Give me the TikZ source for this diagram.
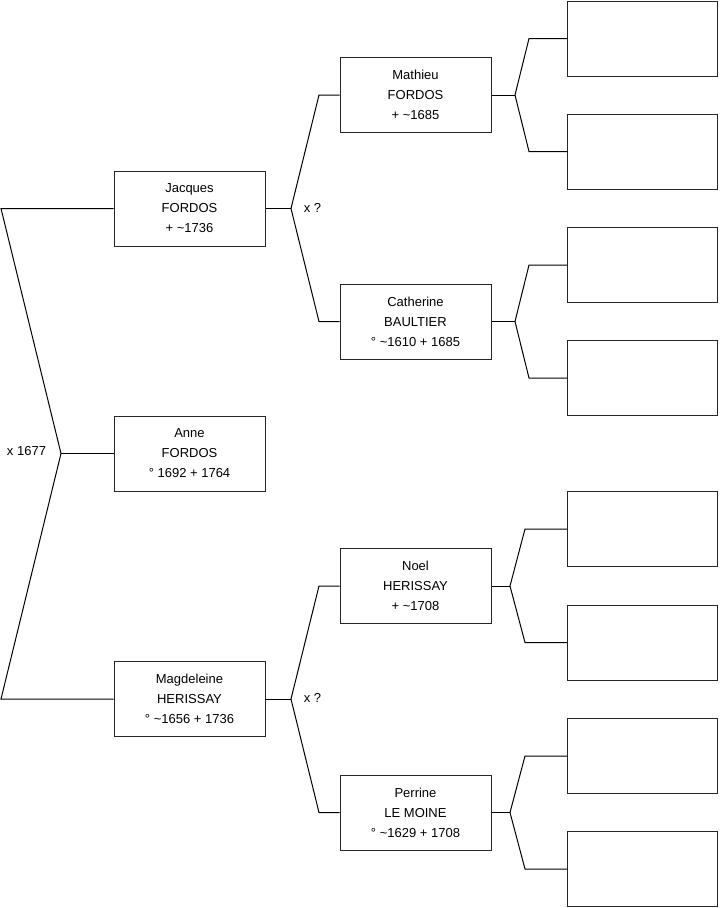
\documentclass[tikz,border=0pt]{standalone}
\usepackage{fontspec}
\setmainfont{Liberation Sans}
\begin{document}
\begin{tikzpicture}[x=0.75pt,y=-0.75pt,line width=0.75pt,
  person/.style={draw=black!85,rectangle,minimum width=113.25pt,minimum height=56.25pt,inner sep=0pt,align=center,font=\fontsize{9.75}{15}\selectfont},
  empty/.style={draw=black!85,rectangle,minimum width=112.5pt,minimum height=56.25pt,inner sep=0pt},
  lbl/.style={font=\fontsize{9.75}{12}\selectfont,inner sep=0pt},
  conn/.style={draw=black,line width=0.75pt}]
\useasboundingbox (0,0) rectangle (719,908);
% generation 1
\node[person] (jacques) at (189.5,208.5) {Jacques\\FORDOS\\+ \textasciitilde1736};
\node[person] (anne) at (189.5,453.5) {Anne\\FORDOS\\° 1692 + 1764};
\node[person] (magd) at (189.5,699) {Magdeleine\\HERISSAY\\° \textasciitilde1656 + 1736};
% generation 2
\node[person] (mathieu) at (415.5,95) {Mathieu\\FORDOS\\+ \textasciitilde1685};
\node[person] (cath) at (415.5,321.5) {Catherine\\BAULTIER\\° \textasciitilde1610 + 1685};
\node[person] (noel) at (415.5,586) {Noel\\HERISSAY\\+ \textasciitilde1708};
\node[person] (perr) at (415.5,812.5) {Perrine\\LE MOINE\\° \textasciitilde1629 + 1708};
% generation 3
\node[empty] (u1) at (642.5,38.5) {};
\node[empty] (u2) at (642.5,151.5) {};
\node[empty] (u3) at (642.5,265) {};
\node[empty] (u4) at (642.5,378) {};
\node[empty] (u5) at (642.5,529) {};
\node[empty] (u6) at (642.5,642.5) {};
\node[empty] (u7) at (642.5,756) {};
\node[empty] (u8) at (642.5,869) {};
% left bracket
\coordinate (l1) at (1,208.5);
\coordinate (l0) at (61,453.5);
\coordinate (l2) at (1,699);
\draw[conn] (jacques.west) -- (l1) -- (l0) -- (l2) -- (magd.west);
\draw[conn] (l0) -- (anne.west);
\node[lbl] (m0) at (26.5,451.5) {x 1677};
% gen2 brackets
\coordinate (j2) at (291,208.5);
\coordinate (t1) at (319,95);
\coordinate (t2) at (319,321.5);
\draw[conn] (jacques.east) -- (j2);
\draw[conn] (mathieu.west) -- (t1) -- (j2) -- (t2) -- (cath.west);
\node[lbl] (m1) at (312.5,207.5) {x ?};
\coordinate (k2) at (291,699);
\coordinate (s1) at (319,586);
\coordinate (s2) at (319,812.5);
\draw[conn] (magd.east) -- (k2);
\draw[conn] (noel.west) -- (s1) -- (k2) -- (s2) -- (perr.west);
\node[lbl] (m2) at (312.5,697.5) {x ?};
% gen3 brackets
\coordinate (ja) at (515,95);
\coordinate (a1) at (529,38.5);
\coordinate (a2) at (529,151.5);
\draw[conn] (mathieu.east) -- (ja);
\draw[conn] (u1.west) -- (a1) -- (ja) -- (a2) -- (u2.west);
\coordinate (jb) at (515,321.5);
\coordinate (b1) at (529,265);
\coordinate (b2) at (529,378);
\draw[conn] (cath.east) -- (jb);
\draw[conn] (u3.west) -- (b1) -- (jb) -- (b2) -- (u4.west);
\coordinate (jc) at (510,586);
\coordinate (c1) at (525,529);
\coordinate (c2) at (525,642.5);
\draw[conn] (noel.east) -- (jc);
\draw[conn] (u5.west) -- (c1) -- (jc) -- (c2) -- (u6.west);
\coordinate (jd) at (510,812.5);
\coordinate (d1) at (525,756);
\coordinate (d2) at (525,869);
\draw[conn] (perr.east) -- (jd);
\draw[conn] (u7.west) -- (d1) -- (jd) -- (d2) -- (u8.west);
\end{tikzpicture}
\end{document}
